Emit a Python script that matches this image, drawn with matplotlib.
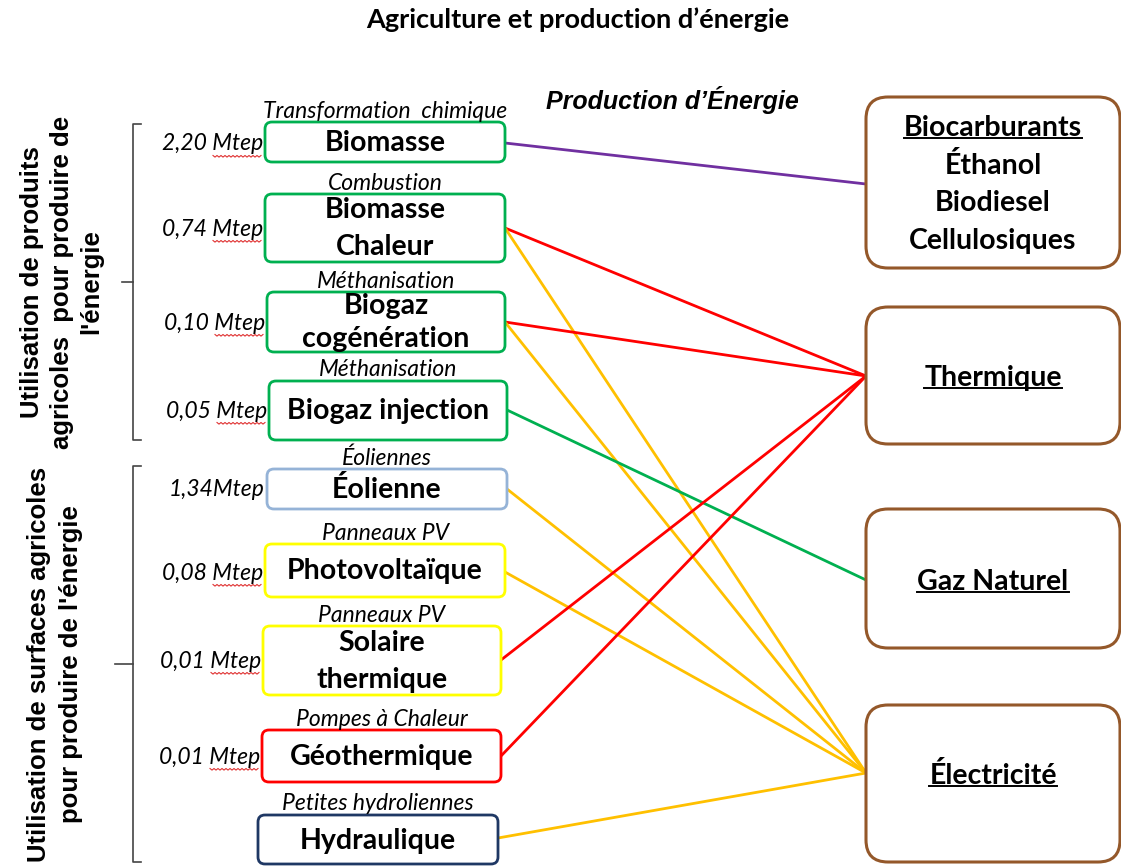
import matplotlib.pyplot as plt
from matplotlib.patches import FancyBboxPatch
import numpy as np

# sources (left column)
sources = ["Biomasse", "Biomasse\nChaleur", "Biogaz\ncogénération", "Biogaz injection",
           "Éolienne", "Photovoltaïque", "Solaire\nthermique", "Géothermique", "Hydraulique"]
process = ["Transformation  chimique", "Combustion", "Méthanisation", "Méthanisation",
           "Éoliennes", "Panneaux PV", "Panneaux PV", "Pompes à Chaleur", "Petites hydroliennes"]
values = ["2,20 Mtep", "0,74 Mtep", "0,10 Mtep", "0,05 Mtep", "1,34Mtep",
          "0,08 Mtep", "0,01 Mtep", "0,01 Mtep", ""]
src_colors = ["#00b050", "#00b050", "#00b050", "#00b050", "#95b3d7",
              "#ffff00", "#ffff00", "#ff0000", "#1f3864"]

# targets (right column)
targets = ["Biocarburants", "Thermique", "Gaz Naturel", "Électricité"]
target_sub = [["Éthanol", "Biodiesel", "Cellulosiques"], [], [], []]

# links: (source index, target index, colour)
links = [(0, 0, "#7030a0"),
         (1, 1, "#ff0000"), (1, 3, "#ffc000"),
         (2, 1, "#ff0000"), (2, 3, "#ffc000"),
         (3, 2, "#00b050"),
         (4, 3, "#ffc000"), (5, 3, "#ffc000"),
         (6, 1, "#ff0000"), (7, 1, "#ff0000"),
         (8, 3, "#ffc000")]

groups = ["Utilisation de produits\nagricoles  pour produire de\nl'énergie",
          "Utilisation de surfaces agricoles\npour produire de l'énergie"]

# layout (pixel space)
src_box = [(265, 122, 240, 40), (265, 194, 240, 68), (267, 292, 238, 60), (269, 381, 238, 59),
           (267, 469, 240, 40), (265, 544, 240, 53), (263, 626, 238, 69), (262, 730, 239, 52),
           (258, 815, 240, 49)]
tgt_box = [(866, 97, 254, 171), (866, 307, 254, 137), (866, 509, 254, 139), (866, 705, 254, 157)]
src_anchor = [143, 228, 322, 410, 489, 572, 660, 756, 838]
tgt_anchor = [184, 376, 580, 773]

plt.rcParams['font.family'] = ['Lato', 'DejaVu Sans']
FS = 20.5

fig = plt.figure(figsize=(11.21, 8.66), dpi=100)
ax = fig.add_axes([0, 0, 1, 1])
ax.set_xlim(0, 1121)
ax.set_ylim(866, 0)
ax.axis('off')

ax.text(578, 20, "Agriculture et production d’énergie", ha='center', va='center',
        fontsize=19.5, fontweight='bold')
ax.text(672, 100, "Production d’Énergie", ha='center', va='center', fontsize=18,
        fontweight='bold', style='italic', family=['Liberation Sans Narrow', 'Liberation Sans'])

# links first, under the boxes
for s, t, c in links:
    x0 = src_box[s][0] + src_box[s][2]
    x1 = tgt_box[t][0]
    ax.plot([x0, x1], [src_anchor[s], tgt_anchor[t]], color=c, lw=2, zorder=1)

underlines = []
for i, name in enumerate(sources):
    x, y, w, h = src_box[i]
    ax.add_patch(FancyBboxPatch((x, y), w, h, boxstyle="round,pad=0,rounding_size=7",
                                fc='white', ec=src_colors[i], lw=2, zorder=2))
    cx = x + w / 2
    lines = name.split("\n")
    if len(lines) == 1:
        ax.text(cx, y + h / 2 + 1, name, ha='center', va='center', fontsize=FS,
                fontweight='bold', zorder=3)
    else:
        ax.text(cx, y + h * 0.24, lines[0], ha='center', va='center', fontsize=FS,
                fontweight='bold', zorder=3)
        ax.text(cx, y + h * 0.78, lines[1], ha='center', va='center', fontsize=FS,
                fontweight='bold', zorder=3)
    ax.text(cx, y - 11, process[i], ha='center', va='center', fontsize=16.5,
            style='italic', zorder=4)
    if values[i]:
        t = ax.text(x - 2, src_anchor[i] + 1, values[i], ha='right', va='center',
                    fontsize=16.5, style='italic', zorder=3)
        if "Mtep" in values[i] and i != 4:
            underlines.append(t)

for i, name in enumerate(targets):
    x, y, w, h = tgt_box[i]
    ax.add_patch(FancyBboxPatch((x, y), w, h, boxstyle="round,pad=0,rounding_size=22",
                                fc='white', ec='#94582a', lw=2.2, zorder=2))
    cx = x + w / 2
    if target_sub[i]:
        ty = y + 31
    else:
        ty = tgt_anchor[i] + 2
    t = ax.text(cx, ty, name, ha='center', va='center', fontsize=FS,
                fontweight='bold', zorder=3)
    underlines.append(t)
    for k, sub in enumerate(target_sub[i]):
        ax.text(cx, ty + 37.5 * (k + 1), sub, ha='center', va='center', fontsize=FS,
                fontweight='bold', zorder=3)

# brackets
for (y0, y1, xb, tip) in [(124, 440, 133, 122), (466, 862, 133, 115)]:
    ym = (y0 + y1) / 2
    ax.plot([xb + 8, xb, xb, xb + 8], [y0, y0, y1, y1], color='#444444', lw=1.2)
    ax.plot([tip, xb], [ym, ym], color='#444444', lw=1.2)

ax.text(62, 282, groups[0], rotation=90, ha='center', va='center', fontsize=18.5,
        fontweight='bold', linespacing=1.3, family=['Liberation Sans', 'DejaVu Sans'])
ax.text(55, 664, groups[1], rotation=90, ha='center', va='center', fontsize=18.5,
        fontweight='bold', linespacing=1.45, family=['Liberation Sans', 'DejaVu Sans'])

# underline target titles and squiggle under Mtep
fig.canvas.draw()
inv = ax.transData.inverted()
for t in underlines:
    bb = t.get_window_extent()
    (xa, ya), (xb2, yb) = inv.transform([[bb.x0, bb.y0], [bb.x1, bb.y1]])
    if "Mtep" in t.get_text():
        xs = np.arange(xb2 - 50, xb2, 2.0)
        ys = ya + 1 + np.where(np.arange(len(xs)) % 2 == 0, 0, 1.6)
        ax.plot(xs, ys, color='#e03030', lw=0.8)
    else:
        ax.plot([xa, xb2], [ya - 3, ya - 3], color='black', lw=1.4)

fig.savefig("out.png", dpi=100)
